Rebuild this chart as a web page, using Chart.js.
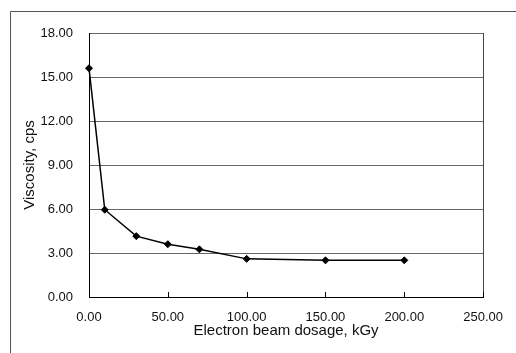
<!DOCTYPE html>
<html>
<head>
<meta charset="utf-8">
<script src="https://cdn.jsdelivr.net/npm/chart.js@4/dist/chart.umd.min.js"></script>
<style>
html,body{margin:0;padding:0;background:#fff;}
#wrap{width:516px;height:353px;position:relative;}
</style>
</head>
<body>
<div id="wrap"><canvas id="c" width="516" height="353"></canvas></div>
<script>
// Data
const dosage = [0, 10, 30, 50, 70, 100, 150, 200];          // Electron beam dosage, kGy
const viscosity = [15.6, 5.95, 4.15, 3.6, 3.25, 2.6, 2.5, 2.5]; // Viscosity, cps
const xTitle = 'Electron beam dosage, kGy';
const yTitle = 'Viscosity, cps';
const xMin = 0, xMax = 250, xStep = 50;
const yMin = 0, yMax = 18, yStep = 3;

const FONT = '"Liberation Sans", Arial, Helvetica, sans-serif';

const decor = {
  id: 'decor',
  beforeDraw(chart) {
    const ctx = chart.ctx;
    ctx.save();
    ctx.fillStyle = '#fff';
    ctx.fillRect(0, 0, chart.width, chart.height);
    // outer chart frame (left and top edges visible)
    ctx.strokeStyle = '#555';
    ctx.lineWidth = 1;
    ctx.beginPath();
    ctx.moveTo(10.5, chart.height + 2);
    ctx.lineTo(10.5, 11.5);
    ctx.lineTo(chart.width + 2, 11.5);
    ctx.stroke();
    ctx.restore();
  },
  beforeDatasetsDraw(chart) {
    const ctx = chart.ctx;
    const a = chart.chartArea;
    const xs = chart.scales.x;
    ctx.save();
    // right border of plot area
    ctx.strokeStyle = '#444';
    ctx.lineWidth = 1;
    ctx.beginPath();
    ctx.moveTo(Math.round(a.right) + 0.5, a.top);
    ctx.lineTo(Math.round(a.right) + 0.5, a.bottom);
    ctx.stroke();
    // inside tick marks on x axis
    ctx.strokeStyle = '#000';
    ctx.beginPath();
    xs.ticks.forEach(t => {
      const px = Math.round(xs.getPixelForValue(t.value)) + 0.5;
      ctx.moveTo(px, a.bottom);
      ctx.lineTo(px, a.bottom - 5);
    });
    ctx.stroke();
    ctx.restore();
  }
};

new Chart(document.getElementById('c'), {
  type: 'line',
  data: {
    datasets: [{
      data: dosage.map((x, i) => ({x: x, y: viscosity[i]})),
      borderColor: '#000',
      backgroundColor: '#000',
      borderWidth: 1.5,
      pointStyle: 'rectRot',
      pointRadius: 3.5,
      pointBorderWidth: 1,
      tension: 0,
      fill: false,
      clip: false
    }]
  },
  options: {
    responsive: false,
    animation: false,
    events: [],
    layout: { padding: { left: 10, right: 24, top: 33, bottom: 0 } },
    plugins: { legend: { display: false }, tooltip: { enabled: false } },
    scales: {
      x: {
        type: 'linear',
        min: xMin, max: xMax,
        afterFit(s) { s.height = 56; },
        grid: { display: false, drawTicks: false },
        border: { display: true, color: '#000', width: 1 },
        ticks: {
          stepSize: xStep,
          padding: 13,
          color: '#111',
          font: { family: FONT, size: 13 },
          maxRotation: 0,
          callback: v => Number(v).toFixed(2)
        },
        title: {
          display: true, text: xTitle, color: '#111',
          font: { family: FONT, size: 15 },
          padding: { top: 0, bottom: 13 }
        }
      },
      y: {
        min: yMin, max: yMax,
        afterFit(s) { s.width = 79; },
        grid: { color: '#666', lineWidth: 1, drawTicks: false },
        border: { display: true, color: '#000', width: 1 },
        ticks: {
          stepSize: yStep,
          padding: 16,
          color: '#111',
          font: { family: FONT, size: 13 },
          callback: v => Number(v).toFixed(2)
        },
        title: {
          display: true, text: yTitle, color: '#111',
          font: { family: FONT, size: 15 },
          padding: { top: 11, bottom: 0 }
        }
      }
    }
  },
  plugins: [decor]
});
</script>
</body>
</html>
